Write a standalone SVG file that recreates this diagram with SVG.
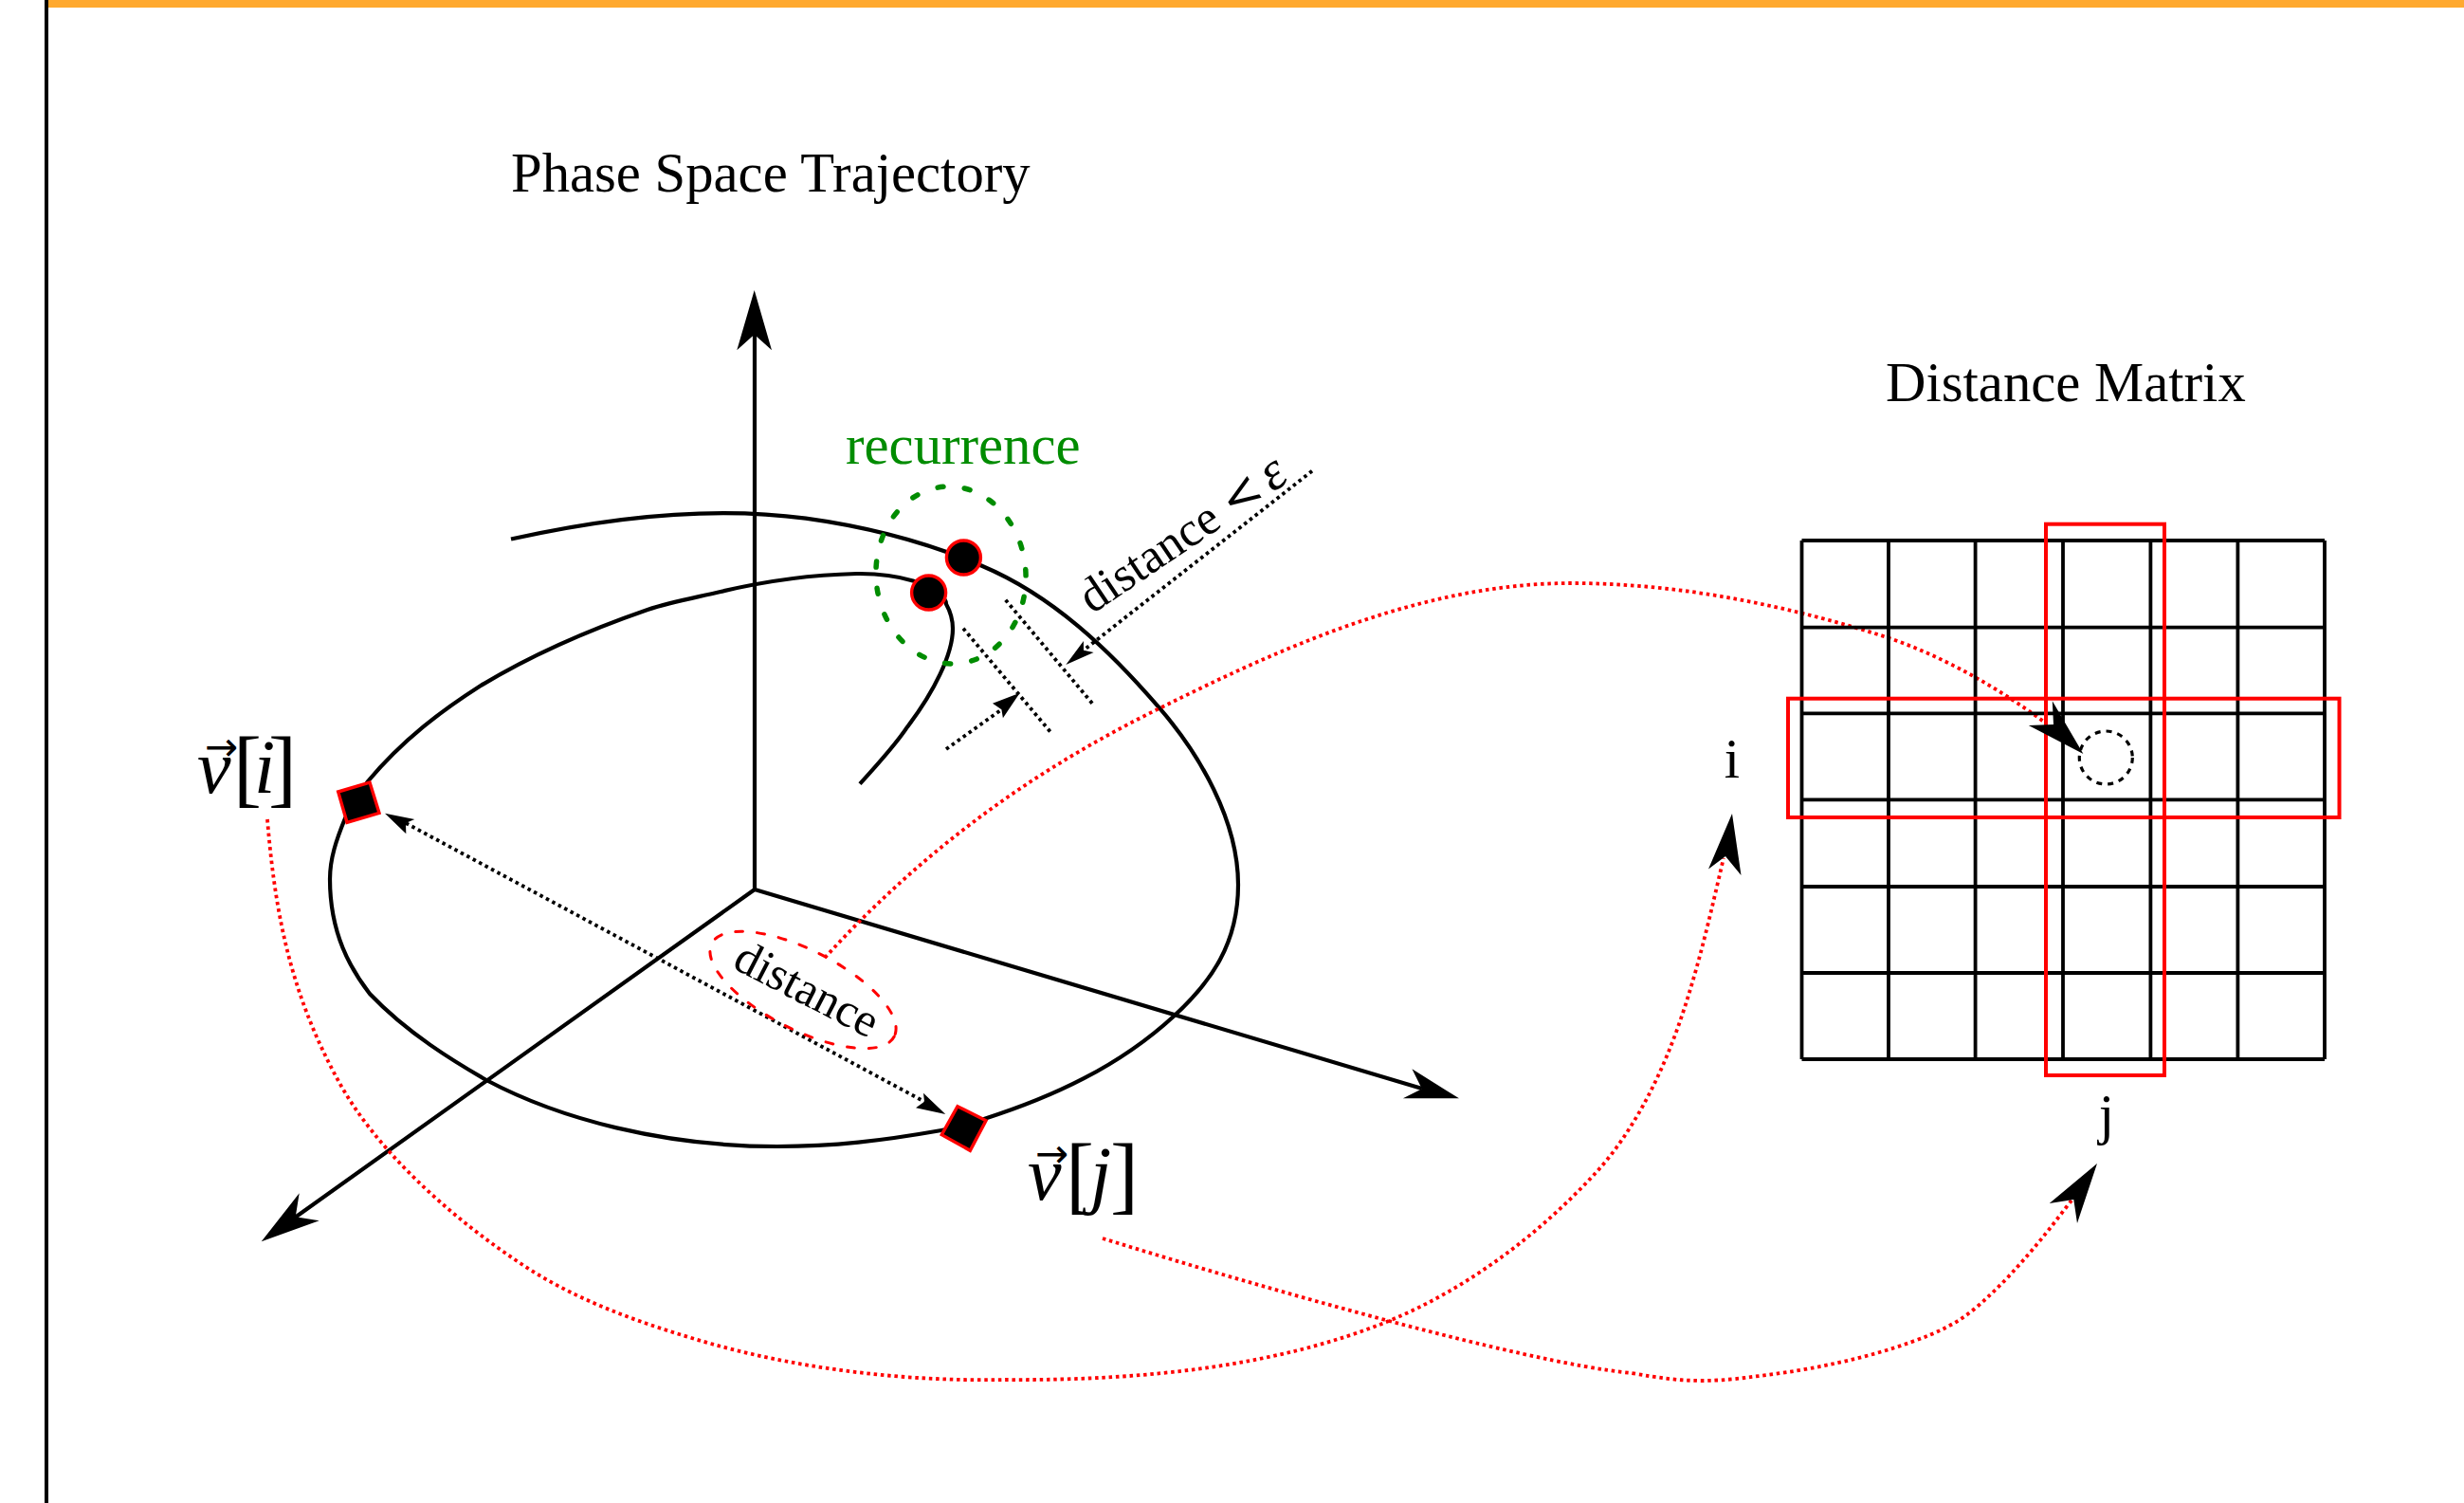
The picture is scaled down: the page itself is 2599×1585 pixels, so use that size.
<svg xmlns="http://www.w3.org/2000/svg" width="2599" height="1585" viewBox="0 0 2599 1585">
<style>
text{font-family:"Liberation Serif","Times New Roman",serif;fill:#000}
.t{font-size:58.7px}
.m{font-size:80px}
.b{font-size:90px}
.i{font-style:italic}
.ar{font-family:"DejaVu Sans",sans-serif;font-size:42px}
.c{fill:none;stroke:#000;stroke-width:4.2;stroke-linejoin:round}
.dot{fill:none;stroke:#000;stroke-width:3.8;stroke-dasharray:3.5 3.8}
.rd{fill:none;stroke:#f00;stroke-width:3.8;stroke-dasharray:3.5 3.8}
.h{fill:#000;stroke:none}
.g{stroke:#000;stroke-width:3.8;fill:none}
.r{fill:none;stroke:#f00;stroke-width:4}
.n{fill:#000;stroke:#f00;stroke-width:3.4}
</style>
<rect width="2599" height="1585" fill="#fff"/>
<rect id="top-bar" x="50" y="0" width="2549" height="8" fill="#ffa92f"/>
<rect id="left-rule" x="47" y="0" width="4" height="1585" fill="#000"/>

<g id="axes">
<path class="c" d="M796,938V350M796,938L1500,1148M796,938L311,1284"/>
<polygon class="h" points="795.7,306 814,369.3 795.7,352.7 777.3,369.3"/>
<polygon class="h" points="1539,1158.3 1479.9,1158.3 1499.8,1148.3 1489.4,1127.3"/>
<polygon class="h" points="275.7,1309.3 315.7,1258.3 311.7,1283.3 336.7,1287.3"/>
</g>

<g id="trajectory">
<path class="c" d="M539,568.5C640,546 750,533 850,546.7C925,557 985,575 1035.7,596.7C1110,628 1170,685 1223,746.7C1265,795 1306,865 1306,933C1306,995 1278,1035 1238,1071.7C1180,1125 1110,1157 1038,1180C1020,1186 1005,1190 993,1192C930,1203 880,1209 820,1209C700,1209 590,1180 513,1139C480,1120 430,1090 390,1048C370,1022 348,985 348,927C348,905 355,885 364,863C372,848 380,835 388,824C425,780 465,750 506.7,723.3C565,688 625,663 683,643C710,634 735,630 760,624C810,612 860,606 903.6,605C925,604.7 945,607 964,612.7C985,618 998,630 998,637C1003,646 1005,655 1005,663C1005,690 985,730 957,766.7C945,785 925,807 907,826.7"/>
</g>

<g id="connectors">
<path class="dot" d="M1060.7,632.7L1152.9,742.7"/>
<path class="dot" d="M1016,662.7L1107.9,771.7"/>
<path class="dot" d="M1384,496.7L1143,685.7"/>
<polygon class="h" points="1124.3,701 1142.9,676 1143,685.7 1153.6,688"/>
<path class="dot" d="M998,790L1056.4,748.3"/>
<polygon class="h" points="1075.7,730.7 1047,741.7 1056.4,748.3 1057.9,757.3"/>
<path class="dot" d="M428,868L975,1161.7"/>
<polygon class="h" points="406,857.7 437.3,864 428,868 428.3,879.3"/>
<polygon class="h" points="997.3,1175 974,1152.7 975,1161.7 966,1168.3"/>
<path class="rd" d="M870,1010C980,890 1095,810 1223,747C1350,684 1500,615 1657,615C1775,615 1890,640 1990,672C2050,692 2110,727 2157,762"/>
<path class="rd" d="M282,864C290,960 305,1045 357,1140C395,1210 470,1280 550,1333C610,1373 680,1397 750,1417C850,1445 960,1457 1061,1455C1210,1456 1350,1440 1465,1393C1550,1358 1625,1300 1683,1237C1720,1197 1750,1140 1771,1080C1792,1020 1805,960 1818,905"/>
<path class="rd" d="M1163,1306C1260,1336 1360,1365 1465,1393C1560,1418 1660,1442 1721,1448C1750,1453 1770,1456 1794,1456C1815,1456 1833,1454 1850,1451.7C1910,1445 1970,1432 2016.7,1415C2045,1405 2065,1395 2083,1380C2095,1370 2105,1360 2115,1350C2150,1313 2170,1285 2185,1266"/>
</g>

<g id="matrix">
<path class="g" d="M1900.5,570H2452M1900.5,661.7H2452M1900.5,752.3H2452M1900.5,843.3H2452M1900.5,935H2452M1900.5,1026H2452M1900.5,1117H2452"/>
<path class="g" d="M1900.5,570V1117M1992,570V1117M2083.6,570V1117M2176,570V1117M2268.4,570V1117M2360.4,570V1117M2452,570V1117"/>
<rect class="r" x="2158" y="552.7" width="125" height="581.3"/>
<rect class="r" x="1886" y="736.7" width="581.5" height="125.3"/>
<ellipse cx="2221.3" cy="799" rx="28" ry="28" fill="none" stroke="#000" stroke-width="3.2" stroke-dasharray="6 6"/>
</g>

<g id="connector-heads">
<polygon class="h" points="2197.4,795 2164.8,739.3 2166,764 2139.8,765"/>
<polygon class="h" points="1827,858 1836.5,923 1820,903 1802,916.6"/>
<polygon class="h" points="2212,1227 2191,1290 2187.3,1265 2161.7,1269"/>
</g>

<g id="recurrence-ring">
<ellipse cx="1003" cy="606.5" rx="79" ry="93.5" transform="rotate(-4 1003 606.5)" fill="none" stroke="#008c00" stroke-width="5.5" stroke-linecap="round" stroke-dasharray="6 22.5"/>
</g>

<g id="point-a"><circle class="n" cx="1016.4" cy="588" r="18"/></g>
<g id="point-b"><circle class="n" cx="979.6" cy="625" r="18"/></g>
<g id="point-i"><polygon class="n" points="356.7,835 390,825 400,857.3 366,867.3"/></g>
<g id="point-j"><polygon class="n" points="1010,1166.7 1040,1181.7 1023.3,1213.3 993.3,1196.7"/></g>

<g id="distance-label">
<ellipse cx="847" cy="1044" rx="108" ry="42" transform="rotate(27 847 1044)" fill="none" stroke="#f00" stroke-width="3" stroke-linecap="round" stroke-dasharray="8 15"/>
<text x="771" y="1020" font-size="50" transform="rotate(27.3 771 1020)">distance</text>
</g>

<g id="epsilon-label">
<text x="1152" y="648" font-size="51" transform="rotate(-34 1152 648)" xml:space="preserve">distance <tspan font-family="DejaVu Serif">&lt;</tspan> <tspan class="i" dx="-6" font-size="58">ε</tspan></text>
</g>

<g id="titles">
<text class="t" x="539" y="202">Phase Space Trajectory</text>
<text class="t" x="1989" y="423">Distance Matrix</text>
<text class="t" x="892" y="489" style="fill:#008c00">recurrence</text>
<text class="t" x="1827" y="820" text-anchor="middle">i</text>
<text class="t" x="2222" y="1195" text-anchor="middle">j</text>
</g>

<g id="vec-i">
<text><tspan class="m i" x="208" y="836">v</tspan><tspan class="ar" x="216" y="802">→</tspan><tspan class="b" x="246" y="840">[</tspan><tspan class="m i" x="268" y="836">i</tspan><tspan class="b" x="283" y="840">]</tspan></text>
</g>
<g id="vec-j">
<text><tspan class="m i" x="1084" y="1265">v</tspan><tspan class="ar" x="1092" y="1231">→</tspan><tspan class="b" x="1124" y="1269">[</tspan><tspan class="m i" x="1150" y="1265">j</tspan><tspan class="b" x="1171" y="1269">]</tspan></text>
</g>
</svg>
